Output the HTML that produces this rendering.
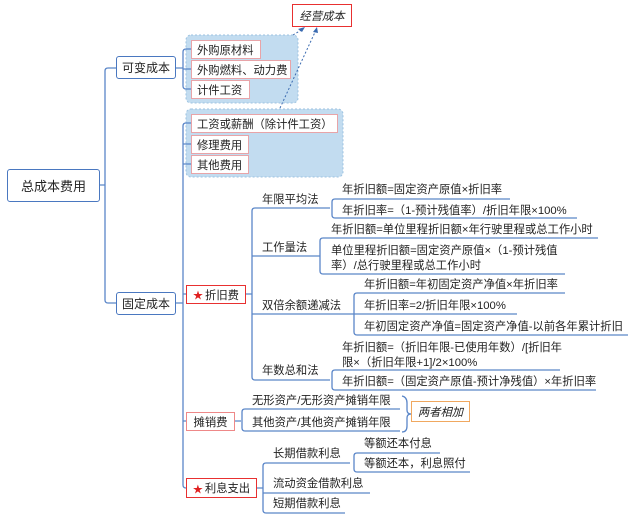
<!DOCTYPE html>
<html><head><meta charset="utf-8"><style>
body{margin:0;width:636px;height:521px;background:#fff;position:relative;overflow:hidden;font-family:"Liberation Sans","Noto Sans CJK SC",sans-serif;color:#222}
.t{position:absolute;font-size:11.3px;white-space:nowrap;line-height:14px}
.b{position:absolute;box-sizing:border-box;font-size:11.3px;display:flex;align-items:center;justify-content:center;background:#fff;white-space:nowrap}
.bl{border:1.5px solid #4a78c0;border-radius:3px}
.pk{border:1.5px solid #e8a4a8;justify-content:flex-start;padding-left:5px}
.rd{border:1.5px solid #e83030}
.st{color:#e02020;font-size:10px;margin-right:2px}
</style></head><body>
<svg width="636" height="521" style="position:absolute;left:0;top:0">
<g fill="#c2dcf0" stroke="#9cc2e0" stroke-dasharray="2,2">
<rect x="186" y="35" width="112" height="68" rx="5"/>
<rect x="186" y="109" width="157" height="68" rx="5"/>
</g>
<g fill="none" stroke="#5a86c8" stroke-width="1.3">
<path d="M100 185 H105 M116 68 H108 Q105 68 105 71 V300 Q105 303 108 303 H116"/>
<path d="M176 68 H183 M191 49 H186 Q183 49 183 52 V86 Q183 89 186 89 H191 M183 69 H191"/>
<path d="M176 303 H183 M191 123 H186 Q183 123 183 126 V485 Q183 488 186 488 M183 144 H191 M183 164 H191 M183 294 H186 M183 421 H186"/>
<path d="M246 294 H252 M330 208 H255 Q252 208 252 211 V377 Q252 380 255 380 H330 M252 256 H320 M252 314 H354"/>
<path d="M510 199 H335 Q332 199 332 202 V215 Q332 218 335 218 H577"/>
<path d="M598 238 H323 Q320 238 320 241 V271 Q320 274 323 274 H565"/>
<path d="M565 293 H357 Q354 293 354 296 V332 Q354 335 357 335 H628 M354 314 H517"/>
<path d="M560 370 H335 Q332 370 332 373 V387 Q332 390 335 390 H596"/>
<path d="M235 421 H241 M400 409 H245 Q242 409 242 412 V428 Q242 431 245 431 H400"/>
<path d="M257 488 H263 M350 463 H266 Q263 463 263 466 V510 Q263 513 266 513 H345 M263 493 H370"/>
<path d="M440 453 H357 Q354 453 354 456 V469 Q354 472 357 472 H470"/>
<path d="M402 396 Q407 397 407 403 V410 Q407 414 411 414 Q407 414 407 418 V426 Q407 432 402 432"/>
</g>
<g stroke="#3a6ab0" stroke-dasharray="2,2" fill="#3a6ab0">
<line x1="293" y1="35" x2="303" y2="29"/>
<line x1="280" y1="108" x2="316" y2="30"/>
</g>
<polygon points="305,27 298,29 302,32" fill="#3a6ab0"/>
<polygon points="317,27 313,32 318,33" fill="#3a6ab0"/>
</svg>
<div class="b bl" style="left:7px;top:169px;width:93px;height:33px;font-size:13px">总成本费用</div>
<div class="b bl" style="left:116px;top:56px;width:60px;height:23px;font-size:12px">可变成本</div>
<div class="b bl" style="left:116px;top:292px;width:60px;height:23px;font-size:12px">固定成本</div>
<div class="b rd" style="left:292px;top:4px;width:60px;height:23px;font-style:italic">经营成本</div>
<div class="b pk" style="left:191px;top:40px;width:70px;height:19px">外购原材料</div>
<div class="b pk" style="left:191px;top:60px;width:100px;height:19px">外购燃料、动力费</div>
<div class="b pk" style="left:191px;top:80px;width:59px;height:19px">计件工资</div>
<div class="b pk" style="left:191px;top:114px;width:147px;height:19px">工资或薪酬（除计件工资）</div>
<div class="b pk" style="left:191px;top:135px;width:58px;height:19px">修理费用</div>
<div class="b pk" style="left:191px;top:155px;width:58px;height:19px">其他费用</div>
<div class="b rd" style="left:186px;top:285px;width:60px;height:19px"><span class="st">★</span>折旧费</div>
<div class="b rd" style="left:186px;top:412px;width:49px;height:19px;border-color:#e88">摊销费</div>
<div class="b rd" style="left:186px;top:478px;width:71px;height:20px"><span class="st">★</span>利息支出</div>
<div class="b" style="left:411px;top:401px;width:59px;height:21px;border:1.5px solid #f0a860;font-style:italic">两者相加</div>
<div class="t" style="left:262px;top:193px">年限平均法</div>
<div class="t" style="left:262px;top:241px">工作量法</div>
<div class="t" style="left:262px;top:299px">双倍余额递减法</div>
<div class="t" style="left:262px;top:364px">年数总和法</div>
<div class="t" style="left:342px;top:183px">年折旧额=固定资产原值×折旧率</div>
<div class="t" style="left:342px;top:204px">年折旧率=（1-预计残值率）/折旧年限×100%</div>
<div class="t" style="left:331px;top:223px">年折旧额=单位里程折旧额×年行驶里程或总工作小时</div>
<div class="t" style="left:331px;top:244px">单位里程折旧额=固定资产原值×（1-预计残值</div>
<div class="t" style="left:331px;top:259px">率）/总行驶里程或总工作小时</div>
<div class="t" style="left:364px;top:278px">年折旧额=年初固定资产净值×年折旧率</div>
<div class="t" style="left:364px;top:299px">年折旧率=2/折旧年限×100%</div>
<div class="t" style="left:364px;top:320px">年初固定资产净值=固定资产净值-以前各年累计折旧</div>
<div class="t" style="left:342px;top:341px">年折旧额=（折旧年限-已使用年数）/[折旧年</div>
<div class="t" style="left:342px;top:356px">限×（折旧年限+1]/2×100%</div>
<div class="t" style="left:342px;top:375px">年折旧额=（固定资产原值-预计净残值）×年折旧率</div>
<div class="t" style="left:252px;top:394px">无形资产/无形资产摊销年限</div>
<div class="t" style="left:252px;top:416px">其他资产/其他资产摊销年限</div>
<div class="t" style="left:273px;top:447px">长期借款利息</div>
<div class="t" style="left:273px;top:477px">流动资金借款利息</div>
<div class="t" style="left:273px;top:497px">短期借款利息</div>
<div class="t" style="left:364px;top:437px">等额还本付息</div>
<div class="t" style="left:364px;top:457px">等额还本，利息照付</div>
</body></html>
